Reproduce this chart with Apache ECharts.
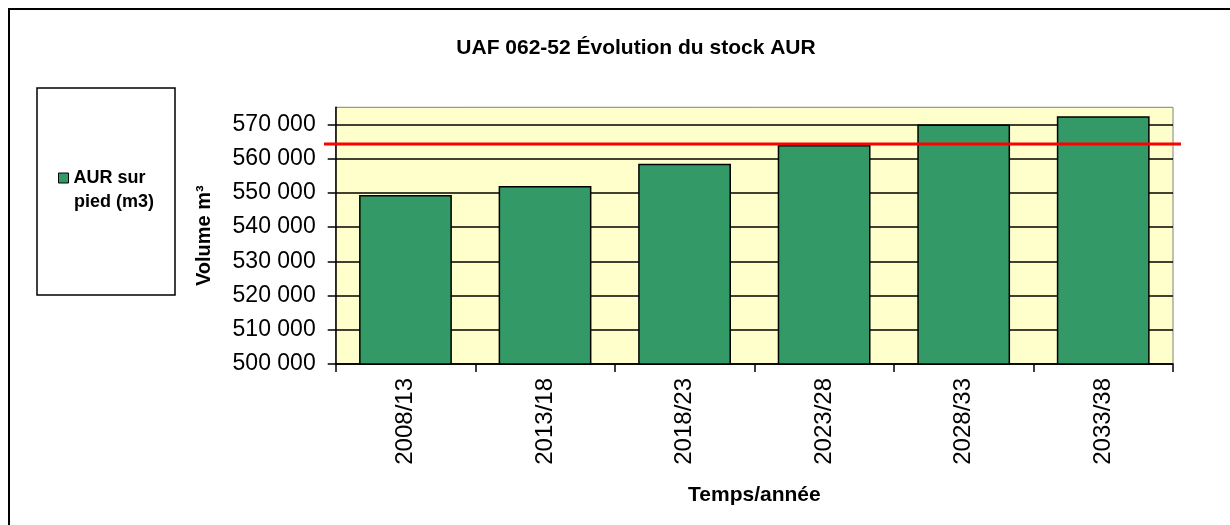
<!DOCTYPE html>
<html>
<head>
<meta charset="utf-8">
<script src="https://cdn.jsdelivr.net/npm/echarts@6/dist/echarts.min.js"></script>
<style>
html,body{margin:0;padding:0;background:#fff;}
#c{width:1230px;height:525px;}
</style>
</head>
<body>
<div id="c"></div>
<script>
var categories = ['2008/13', '2013/18', '2018/23', '2023/28', '2028/33', '2033/38'];
var stockValues = [549400, 552000, 558500, 564000, 570000, 572400];
var thresholdValue = 564300;
var yTickValues = [500000, 510000, 520000, 530000, 540000, 550000, 560000, 570000];
var seriesName = 'AUR sur pied (m3)';
var legendLines = ['AUR sur', 'pied (m3)'];
var titleText = 'UAF 062-52 Évolution du stock AUR';
var xAxisName = 'Temps/année';
var yAxisName = 'Volume m³';

var FONT = '"Liberation Sans", Arial, sans-serif';
var chart = echarts.init(document.getElementById('c'), null, {renderer: 'canvas'});

function fmt(v) {
  var s = String(Math.round(v));
  return s.replace(/\B(?=(\d{3})+(?!\d))/g, ' ');
}

var option = {
  animation: false,
  backgroundColor: '#ffffff',
  title: {
    text: titleText,
    left: 631,
    textAlign: 'center',
    top: 33,
    textStyle: {fontFamily: FONT, fontWeight: 'bold', fontSize: 21, color: '#000'}
  },
  legend: {
    show: true,
    left: 58,
    top: 169,
    padding: 0,
    orient: 'vertical',
    icon: 'rect',
    itemWidth: 10,
    itemHeight: 10,
    data: [{name: seriesName, itemStyle: {color: '#339966', borderColor: '#000', borderWidth: 1}}],
    formatter: function () { return legendLines[0]; },
    textStyle: {fontFamily: FONT, fontWeight: 'bold', fontSize: 18, color: '#000'}
  },
  graphic: [
    {type: 'rect', silent: true, z: -10, shape: {x: 9, y: 9, width: 1400, height: 800}, style: {fill: 'none', stroke: '#000', lineWidth: 2}},
    {type: 'rect', silent: true, z: -10, shape: {x: 37, y: 88, width: 138, height: 207}, style: {fill: '#fff', stroke: '#000', lineWidth: 1.5}},
    {type: 'text', silent: true, z: 10, x: 74, y: 202, style: {text: legendLines[1], fontFamily: FONT, fontWeight: 'bold', fontSize: 18, fill: '#000', textVerticalAlign: 'middle', verticalAlign: 'middle'}}
  ],
  grid: [
    {left: 335.7, right: 57, top: 107.3, bottom: 161, show: true, backgroundColor: '#FFFFCC', borderColor: '#808080', borderWidth: 1},
    {left: 324, right: 49, top: 107.3, bottom: 161, show: false}
  ],
  xAxis: [
    {
      type: 'category', gridIndex: 0, data: categories,
      name: xAxisName, nameLocation: 'middle', nameGap: 121,
      nameTextStyle: {fontFamily: FONT, fontWeight: 'bold', fontSize: 21, color: '#000'},
      axisLine: {show: true, lineStyle: {color: '#000', width: 1.5}},
      axisTick: {show: true, length: 8, lineStyle: {color: '#000', width: 1.5}},
      axisLabel: {rotate: 90, margin: 14, fontFamily: FONT, fontSize: 24, color: '#000', interval: 0},
      splitLine: {show: false}
    },
    {type: 'value', gridIndex: 1, min: 0, max: 1, show: false}
  ],
  yAxis: [
    {
      type: 'value', gridIndex: 0, min: 500000, max: 575000, interval: 10000,
      name: yAxisName, nameLocation: 'middle', nameGap: 121,
      nameTextStyle: {fontFamily: FONT, fontWeight: 'bold', fontSize: 20, color: '#000'},
      axisLine: {show: true, lineStyle: {color: '#000', width: 1.5}},
      axisTick: {show: true, length: 8, customValues: yTickValues, lineStyle: {color: '#000', width: 1.5}},
      axisLabel: {
        margin: 20, fontFamily: FONT, fontSize: 23, color: '#000',
        customValues: yTickValues,
        formatter: function (v) { return fmt(v); }
      },
      splitLine: {show: true, lineStyle: {color: '#000', width: 1.5}}
    },
    {type: 'value', gridIndex: 1, min: 500000, max: 575000, show: false}
  ],
  series: [
    {
      name: seriesName, type: 'bar', xAxisIndex: 0, yAxisIndex: 0,
      data: stockValues, barCategoryGap: '33.5%',
      itemStyle: {color: '#339966', borderColor: '#000', borderWidth: 1.5},
      z: 2
    },
    {
      name: 'seuil', type: 'line', xAxisIndex: 1, yAxisIndex: 1,
      data: [[0, thresholdValue], [1, thresholdValue]],
      symbol: 'none', lineStyle: {color: '#ff0000', width: 3}, z: 5
    }
  ]
};
chart.setOption(option);
</script>
</body>
</html>
